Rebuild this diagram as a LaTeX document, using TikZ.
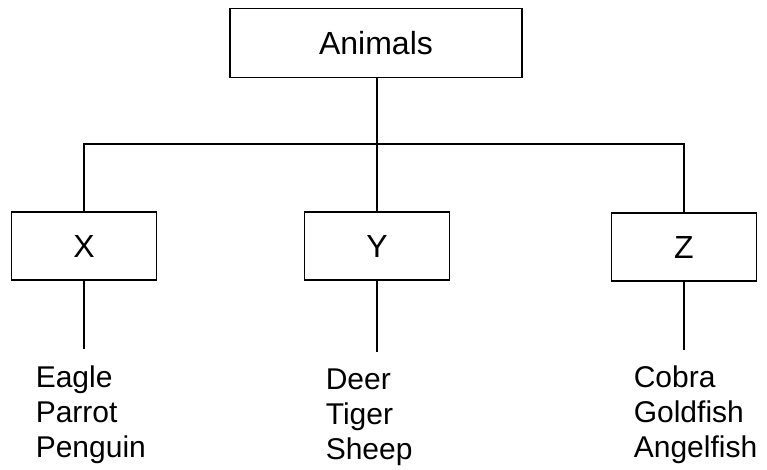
\documentclass[tikz,border=0pt]{standalone}
\usepackage{fontspec}
\setmainfont{Liberation Sans}
\begin{document}
\begin{tikzpicture}[x=1pt, y=-1pt, line width=1.6pt,
    box/.style={draw, rectangle, minimum width=145pt, minimum height=68pt, inner sep=0pt, font=\fontsize{32}{36}\selectfont},
    list/.style={anchor=north west, align=left, inner sep=0pt, font=\fontsize{30}{35}\selectfont}]
    \useasboundingbox(0,0) rectangle (767,470);
    \node[box, minimum width=292pt, minimum height=69pt](animals) at (376,43) {Animals};
    \node[box](x) at (84,246) {X};
    \node[box](y) at (377,246) {Y};
    \node[box](z) at (684,247) {Z};
    \coordinate(bus) at (377,144);
    \draw(animals.south -| bus)--(bus);
    \draw(x.north)--(x.north |- bus)--(z.north |- bus)--(z.north);
    \draw(y.north)--(bus);
    \node[list](birds) at (35,365) {Eagle\\Parrot\\Penguin};
    \node[list](mammals) at (325,368) {Deer\\Tiger\\Sheep};
    \node[list](fish) at (633,365) {Cobra\\Goldfish\\Angelfish};
    \coordinate(xend) at (84,349);
    \coordinate(yend) at (377,352);
    \coordinate(zend) at (684,350);
    \draw(x.south)--(xend);
    \draw(y.south)--(yend);
    \draw(z.south)--(zend);
\end{tikzpicture}
\end{document}
